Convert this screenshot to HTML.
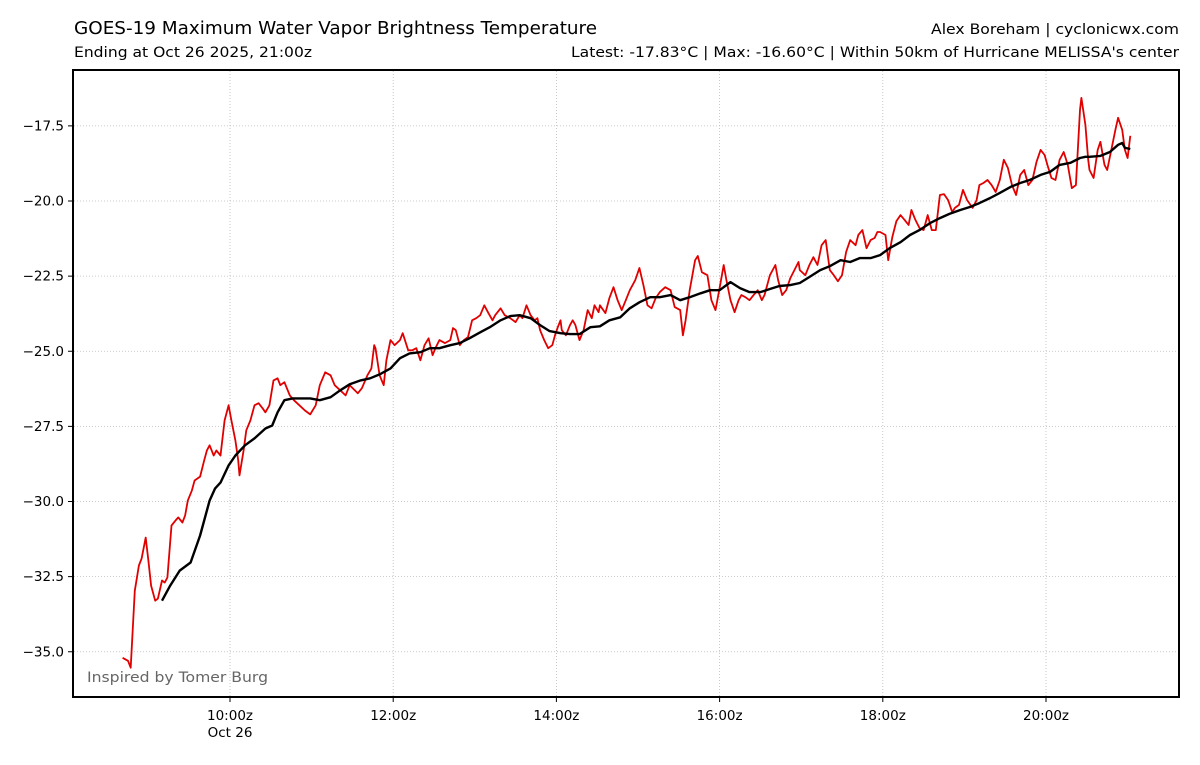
<!DOCTYPE html>
<html><head><meta charset="utf-8"><style>
body{margin:0;background:#fff;font-family:"Liberation Sans",sans-serif;}
svg text{font-family:"DejaVu Sans","Liberation Sans",sans-serif;}
</style></head><body>
<svg id="chart" width="1200" height="760" viewBox="0 0 1200 760" xmlns="http://www.w3.org/2000/svg">
<rect width="1200" height="760" fill="#fff"/>
<text x="74" y="34" font-size="18" textLength="523" lengthAdjust="spacingAndGlyphs">GOES-19 Maximum Water Vapor Brightness Temperature</text>
<text x="74" y="57" font-size="14" textLength="238" lengthAdjust="spacingAndGlyphs">Ending at Oct 26 2025, 21:00z</text>
<text x="931" y="34" font-size="14" textLength="248" lengthAdjust="spacingAndGlyphs">Alex Boreham | cyclonicwx.com</text>
<text x="571" y="57" font-size="14" textLength="608" lengthAdjust="spacingAndGlyphs">Latest: -17.83°C | Max: -16.60°C | Within 50km of Hurricane MELISSA's center</text>
<g id="grid"></g>
<g id="axes"></g>
<g id="series"></g>
<text x="87" y="682" font-size="14.5" fill="#666" textLength="181" lengthAdjust="spacingAndGlyphs">Inspired by Tomer Burg</text>
<rect x="73" y="70" width="1106" height="627" fill="none" stroke="#000" stroke-width="2"/>
</svg>
<script>
// minutes after 08:00z
const rawMinutes=[41,45,47,50,53,55,58,60,62,65,67,70,72,74,77,80,82,85,87,89,92,94,98,101,103,105,108,110,113,116,119,121,124,126,127,130,132,135,138,141,144,146,149,152,155,157,160,164,167,171,175,179,183,186,190,194,197,201,205,208,214,217,221,224,226,227,230,233,235,238,241,245,247,251,254,257,260,263,266,269,271,274,278,282,284,286,289,292,295,298,301,304,307,310,313,315,319,322,326,330,333,335,338,341,344,346,348,351,354,357,359,361,363,364,367,370,372,374,377,380,383,386,388,391,392,396,399,402,405,408,411,414,418,421,424,427,430,433,436,440,444,447,451,453,455,458,462,464,467,471,474,477,480,483,485,488,491,494,496,499,502,505,508,511,513,517,521,523,526,529,532,535,538,539,543,546,549,552,555,558,561,564,567,570,573,576,580,582,585,588,591,594,596,598,602,604,607,610,613,616,619,621,624,627,630,633,636,639,642,645,648,651,653,656,659,662,666,669,671,674,677,680,683,686,689,692,695,698,701,704,707,710,713,716,719,721,724,727,730,733,736,739,742,745,746,749,751,752,755,758,760,763,765,768,771,773,776,778,780,782];
const rawTemps=[-35.20,-35.30,-35.53,-32.97,-32.13,-31.90,-31.20,-31.97,-32.80,-33.30,-33.23,-32.63,-32.70,-32.53,-30.80,-30.63,-30.53,-30.70,-30.47,-29.97,-29.63,-29.30,-29.17,-28.63,-28.30,-28.13,-28.47,-28.30,-28.47,-27.30,-26.80,-27.30,-27.97,-28.63,-29.13,-28.30,-27.63,-27.30,-26.80,-26.73,-26.90,-27.03,-26.80,-25.97,-25.90,-26.13,-26.03,-26.47,-26.63,-26.80,-26.97,-27.10,-26.80,-26.13,-25.70,-25.80,-26.13,-26.30,-26.47,-26.13,-26.40,-26.23,-25.80,-25.57,-24.80,-24.90,-25.80,-26.13,-25.30,-24.63,-24.80,-24.63,-24.40,-24.97,-24.97,-24.90,-25.30,-24.80,-24.57,-25.13,-24.90,-24.63,-24.73,-24.63,-24.23,-24.30,-24.80,-24.63,-24.53,-23.97,-23.90,-23.80,-23.47,-23.73,-23.97,-23.80,-23.57,-23.80,-23.90,-24.03,-23.80,-23.90,-23.47,-23.80,-23.97,-23.90,-24.30,-24.63,-24.90,-24.80,-24.47,-24.20,-23.97,-24.30,-24.47,-24.13,-23.97,-24.13,-24.63,-24.30,-23.63,-23.90,-23.47,-23.70,-23.47,-23.73,-23.23,-22.87,-23.30,-23.63,-23.30,-22.97,-22.63,-22.23,-22.80,-23.47,-23.57,-23.23,-23.03,-22.87,-22.97,-23.53,-23.63,-24.47,-23.97,-22.97,-21.97,-21.83,-22.37,-22.47,-23.30,-23.63,-22.90,-22.13,-22.63,-23.30,-23.70,-23.30,-23.13,-23.20,-23.30,-23.13,-22.97,-23.30,-23.13,-22.47,-22.13,-22.63,-23.13,-22.97,-22.57,-22.30,-22.03,-22.30,-22.47,-22.13,-21.87,-22.13,-21.47,-21.30,-22.30,-22.47,-22.67,-22.47,-21.70,-21.30,-21.47,-21.13,-20.97,-21.57,-21.30,-21.23,-21.03,-21.03,-21.13,-21.97,-21.20,-20.67,-20.47,-20.63,-20.80,-20.30,-20.63,-20.90,-20.97,-20.47,-20.97,-20.97,-19.80,-19.77,-19.97,-20.37,-20.23,-20.13,-19.63,-19.97,-20.23,-19.97,-19.47,-19.40,-19.30,-19.47,-19.70,-19.30,-18.63,-18.90,-19.47,-19.80,-19.13,-18.97,-19.47,-19.30,-18.70,-18.30,-18.47,-18.80,-19.23,-19.30,-18.63,-18.37,-18.80,-19.57,-19.47,-16.97,-16.57,-17.47,-18.63,-18.97,-19.23,-18.30,-18.03,-18.80,-18.97,-18.30,-17.63,-17.23,-17.63,-18.30,-18.57,-17.83];
const meanMinutes=[70,76,83,91,98,105,109,113,119,124,131,138,146,151,155,160,166,171,179,186,194,201,208,216,223,230,238,245,252,260,267,274,282,289,296,304,311,319,326,333,341,348,355,363,370,377,385,392,399,407,414,421,429,436,444,451,458,466,473,480,488,495,502,510,517,524,532,539,546,554,561,569,576,583,591,598,605,613,620,627,635,642,649,657,664,671,679,686,694,701,708,716,723,730,738,745,749,752,760,767,773,776,778,782];
const meanTemps=[-33.30,-32.80,-32.30,-32.03,-31.13,-29.97,-29.57,-29.37,-28.80,-28.47,-28.13,-27.90,-27.57,-27.47,-27.03,-26.63,-26.57,-26.57,-26.57,-26.63,-26.53,-26.30,-26.10,-25.97,-25.90,-25.77,-25.57,-25.23,-25.07,-25.03,-24.90,-24.90,-24.80,-24.73,-24.57,-24.37,-24.20,-23.97,-23.83,-23.80,-23.90,-24.13,-24.33,-24.40,-24.43,-24.43,-24.20,-24.17,-23.97,-23.87,-23.57,-23.37,-23.20,-23.20,-23.13,-23.30,-23.20,-23.07,-22.97,-22.97,-22.70,-22.90,-23.03,-23.03,-22.93,-22.83,-22.80,-22.73,-22.53,-22.30,-22.17,-21.97,-22.03,-21.90,-21.90,-21.80,-21.57,-21.37,-21.13,-20.97,-20.73,-20.57,-20.43,-20.30,-20.20,-20.07,-19.90,-19.73,-19.53,-19.40,-19.30,-19.13,-19.03,-18.80,-18.73,-18.57,-18.53,-18.53,-18.50,-18.37,-18.13,-18.07,-18.23,-18.27];
const yTicks=[-17.5,-20.0,-22.5,-25.0,-27.5,-30.0,-32.5,-35.0];
const xTickMinutes=[120,240,360,480,600,720];
const xTickLabels=["10:00z","12:00z","14:00z","16:00z","18:00z","20:00z"];

const NS="http://www.w3.org/2000/svg";
function X(m){return 230+(m-120)*1.36;}
function Y(v){return 201+(-20-v)*30.05;}
function mk(tag,attrs,parent){const e=document.createElementNS(NS,tag);for(const k in attrs)e.setAttribute(k,attrs[k]);parent.appendChild(e);return e;}
const grid=document.getElementById('grid'),axes=document.getElementById('axes'),series=document.getElementById('series');
yTicks.forEach(v=>{
  const y=Y(v);
  const g=mk('line',{x1:74,x2:1178,y1:y,y2:y,stroke:'#bbb','stroke-width':0.8,'stroke-dasharray':'1,2'},grid);
  
  
  const t=mk('line',{x1:68,x2:73,y1:y,y2:y,stroke:'#000','stroke-width':1},axes);
  
  
  const l=mk('text',{x:64,y:y+4.5,'font-size':13.5,'text-anchor':'end'},axes);
  l.textContent=v.toFixed(1).replace('-','\u2212');
  
  
});
xTickMinutes.forEach((m,i)=>{
  const x=X(m);
  const g=mk('line',{x1:x,x2:x,y1:71,y2:696,stroke:'#bbb','stroke-width':0.8,'stroke-dasharray':'1,2'},grid);
  
  
  const t=mk('line',{x1:x,x2:x,y1:697,y2:702,stroke:'#000','stroke-width':1},axes);
  
  
  const l=mk('text',{x:x,y:720,'font-size':13.5,'text-anchor':'middle'},axes);
  l.textContent=xTickLabels[i];
  
  
  if(i===0){
    const d=mk('text',{x:x,y:737,'font-size':13.5,'text-anchor':'middle'},axes);
    d.textContent='Oct 26';
    
    
  }
});
function pts(ms,vs){return ms.map((m,i)=>X(m).toFixed(1)+','+Y(vs[i]).toFixed(1)).join(' ');}
const red=mk('polyline',{points:pts(rawMinutes,rawTemps),fill:'none',stroke:'#e00000','stroke-width':1.8,'stroke-linejoin':'round'},series);


const blk=mk('polyline',{points:pts(meanMinutes,meanTemps),fill:'none',stroke:'#000','stroke-width':2.4,'stroke-linejoin':'round'},series);


</script>
</body></html>
